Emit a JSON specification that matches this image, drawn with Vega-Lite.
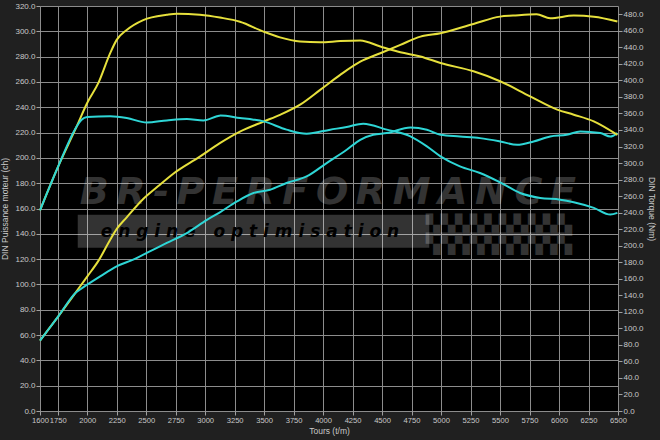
{
  "$schema": "https://vega.github.io/schema/vega-lite/v6.json",
  "width": 578,
  "height": 405,
  "autosize": {"type": "none"},
  "padding": {"left": 40, "top": 6, "right": 42, "bottom": 29},
  "background": "#202020",
  "config": {
    "view": {"fill": "#000000", "stroke": null},
    "axis": {
      "labelFont": "Liberation Sans",
      "labelFontSize": 8,
      "labelColor": "#c8c8c8",
      "titleFont": "Liberation Sans",
      "titleFontSize": 8.5,
      "titleColor": "#c8c8c8",
      "titleFontWeight": "normal",
      "tickColor": "#a0a0a0",
      "tickSize": 4,
      "labelPadding": 1,
      "domain": false,
      "gridColor": "#8c8c8c",
      "gridOpacity": 1,
      "gridWidth": 1
    },
    "axisX": {"labelFontSize": 7.6, "labelFlush": false}
  },
  "datasets": {
    "power": [
      {"run": "tuned", "rpm": 1600, "v": 55.6},
      {"run": "tuned", "rpm": 1755, "v": 74.8},
      {"run": "tuned", "rpm": 1910, "v": 94.6},
      {"run": "tuned", "rpm": 2000, "v": 106.2},
      {"run": "tuned", "rpm": 2095, "v": 118.6},
      {"run": "tuned", "rpm": 2195, "v": 135.3},
      {"run": "tuned", "rpm": 2250, "v": 143.8},
      {"run": "tuned", "rpm": 2335, "v": 153.0},
      {"run": "tuned", "rpm": 2475, "v": 167.5},
      {"run": "tuned", "rpm": 2600, "v": 177.5},
      {"run": "tuned", "rpm": 2730, "v": 187.5},
      {"run": "tuned", "rpm": 2955, "v": 201.0},
      {"run": "tuned", "rpm": 3125, "v": 211.7},
      {"run": "tuned", "rpm": 3295, "v": 220.8},
      {"run": "tuned", "rpm": 3495, "v": 228.7},
      {"run": "tuned", "rpm": 3635, "v": 234.0},
      {"run": "tuned", "rpm": 3805, "v": 242.0},
      {"run": "tuned", "rpm": 3975, "v": 253.7},
      {"run": "tuned", "rpm": 4145, "v": 265.6},
      {"run": "tuned", "rpm": 4315, "v": 276.0},
      {"run": "tuned", "rpm": 4485, "v": 282.7},
      {"run": "tuned", "rpm": 4655, "v": 289.3},
      {"run": "tuned", "rpm": 4825, "v": 295.8},
      {"run": "tuned", "rpm": 4995, "v": 298.5},
      {"run": "tuned", "rpm": 5275, "v": 305.8},
      {"run": "tuned", "rpm": 5500, "v": 311.6},
      {"run": "tuned", "rpm": 5610, "v": 312.4},
      {"run": "tuned", "rpm": 5810, "v": 313.5},
      {"run": "tuned", "rpm": 5925, "v": 310.3},
      {"run": "tuned", "rpm": 6125, "v": 312.4},
      {"run": "tuned", "rpm": 6295, "v": 311.6},
      {"run": "tuned", "rpm": 6495, "v": 307.7},
      {"run": "stock", "rpm": 1600, "v": 55.6},
      {"run": "stock", "rpm": 1755, "v": 74.8},
      {"run": "stock", "rpm": 1910, "v": 94.0},
      {"run": "stock", "rpm": 1940, "v": 96.0},
      {"run": "stock", "rpm": 2000, "v": 99.8},
      {"run": "stock", "rpm": 2110, "v": 106.4},
      {"run": "stock", "rpm": 2250, "v": 114.3},
      {"run": "stock", "rpm": 2390, "v": 119.6},
      {"run": "stock", "rpm": 2505, "v": 124.9},
      {"run": "stock", "rpm": 2675, "v": 132.8},
      {"run": "stock", "rpm": 2845, "v": 140.6},
      {"run": "stock", "rpm": 3015, "v": 151.0},
      {"run": "stock", "rpm": 3125, "v": 157.0},
      {"run": "stock", "rpm": 3270, "v": 165.6},
      {"run": "stock", "rpm": 3410, "v": 172.2},
      {"run": "stock", "rpm": 3550, "v": 174.8},
      {"run": "stock", "rpm": 3690, "v": 180.1},
      {"run": "stock", "rpm": 3860, "v": 185.3},
      {"run": "stock", "rpm": 4030, "v": 195.9},
      {"run": "stock", "rpm": 4200, "v": 206.4},
      {"run": "stock", "rpm": 4315, "v": 214.3},
      {"run": "stock", "rpm": 4425, "v": 218.2},
      {"run": "stock", "rpm": 4540, "v": 219.6},
      {"run": "stock", "rpm": 4740, "v": 224.0},
      {"run": "stock", "rpm": 4880, "v": 222.2},
      {"run": "stock", "rpm": 4995, "v": 218.2},
      {"run": "stock", "rpm": 5160, "v": 216.9},
      {"run": "stock", "rpm": 5330, "v": 215.6},
      {"run": "stock", "rpm": 5500, "v": 213.0},
      {"run": "stock", "rpm": 5645, "v": 210.3},
      {"run": "stock", "rpm": 5785, "v": 213.0},
      {"run": "stock", "rpm": 5925, "v": 216.9},
      {"run": "stock", "rpm": 6065, "v": 218.2},
      {"run": "stock", "rpm": 6180, "v": 220.8},
      {"run": "stock", "rpm": 6350, "v": 219.6},
      {"run": "stock", "rpm": 6435, "v": 216.9},
      {"run": "stock", "rpm": 6495, "v": 219.6}
    ],
    "torque": [
      {"run": "tuned", "rpm": 1600, "v": 242.8},
      {"run": "tuned", "rpm": 1750, "v": 294.5},
      {"run": "tuned", "rpm": 1910, "v": 344.0},
      {"run": "tuned", "rpm": 2000, "v": 372.7},
      {"run": "tuned", "rpm": 2095, "v": 396.9},
      {"run": "tuned", "rpm": 2195, "v": 433.0},
      {"run": "tuned", "rpm": 2250, "v": 449.0},
      {"run": "tuned", "rpm": 2335, "v": 461.0},
      {"run": "tuned", "rpm": 2475, "v": 473.0},
      {"run": "tuned", "rpm": 2675, "v": 479.4},
      {"run": "tuned", "rpm": 2760, "v": 480.7},
      {"run": "tuned", "rpm": 2955, "v": 479.4},
      {"run": "tuned", "rpm": 3125, "v": 476.0},
      {"run": "tuned", "rpm": 3295, "v": 471.0},
      {"run": "tuned", "rpm": 3495, "v": 459.0},
      {"run": "tuned", "rpm": 3635, "v": 452.0},
      {"run": "tuned", "rpm": 3805, "v": 447.0},
      {"run": "tuned", "rpm": 3975, "v": 446.0},
      {"run": "tuned", "rpm": 4145, "v": 447.6},
      {"run": "tuned", "rpm": 4315, "v": 448.4},
      {"run": "tuned", "rpm": 4485, "v": 441.0},
      {"run": "tuned", "rpm": 4655, "v": 434.0},
      {"run": "tuned", "rpm": 4825, "v": 429.0},
      {"run": "tuned", "rpm": 4995, "v": 421.0},
      {"run": "tuned", "rpm": 5275, "v": 411.0},
      {"run": "tuned", "rpm": 5500, "v": 399.0},
      {"run": "tuned", "rpm": 5755, "v": 380.6},
      {"run": "tuned", "rpm": 5985, "v": 364.6},
      {"run": "tuned", "rpm": 6125, "v": 358.5},
      {"run": "tuned", "rpm": 6295, "v": 350.4},
      {"run": "tuned", "rpm": 6495, "v": 334.0},
      {"run": "stock", "rpm": 1600, "v": 242.8},
      {"run": "stock", "rpm": 1750, "v": 294.5},
      {"run": "stock", "rpm": 1910, "v": 344.0},
      {"run": "stock", "rpm": 1950, "v": 352.0},
      {"run": "stock", "rpm": 2000, "v": 355.7},
      {"run": "stock", "rpm": 2195, "v": 356.5},
      {"run": "stock", "rpm": 2335, "v": 354.5},
      {"run": "stock", "rpm": 2505, "v": 349.0},
      {"run": "stock", "rpm": 2675, "v": 351.6},
      {"run": "stock", "rpm": 2845, "v": 353.3},
      {"run": "stock", "rpm": 2985, "v": 351.6},
      {"run": "stock", "rpm": 3100, "v": 356.5},
      {"run": "stock", "rpm": 3130, "v": 357.5},
      {"run": "stock", "rpm": 3295, "v": 354.5},
      {"run": "stock", "rpm": 3410, "v": 352.5},
      {"run": "stock", "rpm": 3495, "v": 350.4},
      {"run": "stock", "rpm": 3690, "v": 340.4},
      {"run": "stock", "rpm": 3860, "v": 335.5},
      {"run": "stock", "rpm": 4060, "v": 340.4},
      {"run": "stock", "rpm": 4200, "v": 343.6},
      {"run": "stock", "rpm": 4340, "v": 347.6},
      {"run": "stock", "rpm": 4540, "v": 340.4},
      {"run": "stock", "rpm": 4740, "v": 332.3},
      {"run": "stock", "rpm": 4880, "v": 320.2},
      {"run": "stock", "rpm": 4995, "v": 308.1},
      {"run": "stock", "rpm": 5160, "v": 296.0},
      {"run": "stock", "rpm": 5330, "v": 288.0},
      {"run": "stock", "rpm": 5500, "v": 276.7},
      {"run": "stock", "rpm": 5670, "v": 263.8},
      {"run": "stock", "rpm": 5840, "v": 257.8},
      {"run": "stock", "rpm": 6010, "v": 255.7},
      {"run": "stock", "rpm": 6125, "v": 252.5},
      {"run": "stock", "rpm": 6295, "v": 245.7},
      {"run": "stock", "rpm": 6435, "v": 237.6},
      {"run": "stock", "rpm": 6495, "v": 239.7}
    ]
  },
  "layer": [
    {
      "data": {"values": [{}]},
      "mark": {"type": "rect", "fill": "#ffffff", "opacity": 0.2},
      "encoding": {
        "x": {"datum": 1920, "type": "quantitative", "scale": {"domain": [1600, 6500], "nice": false, "zero": false}, "axis": {"values": [1600, 1750, 2000, 2250, 2500, 2750, 3000, 3250, 3500, 3750, 4000, 4250, 4500, 4750, 5000, 5250, 5500, 5750, 6000, 6250, 6500], "format": "d", "labelOverlap": false, "labelFlush": false, "title": "Tours (t/m)", "grid": true, "titlePadding": 3}},
        "x2": {"datum": 4900},
        "y": {"datum": 155, "type": "quantitative", "scale": {"domain": [0, 320], "nice": false}, "axis": null},
        "y2": {"datum": 129}
      }
    },
    {
      "data": {"values": [{}]},
      "mark": {"type": "text", "text": "B\u2009R\u2009-\u2009P\u2009E\u2009R\u2009F\u2009O\u2009R\u2009M\u2009A\u2009N\u2009C\u2009E", "font": "DejaVu Sans", "fontSize": 38, "fontWeight": "bold", "fontStyle": "italic", "fill": "#ffffff", "opacity": 0.2, "align": "center", "baseline": "middle"},
      "encoding": {
        "x": {"datum": 4040, "type": "quantitative", "scale": {"domain": [1600, 6500], "nice": false, "zero": false}, "axis": {"values": [1600, 1750, 2000, 2250, 2500, 2750, 3000, 3250, 3500, 3750, 4000, 4250, 4500, 4750, 5000, 5250, 5500, 5750, 6000, 6250, 6500], "format": "d", "labelOverlap": false, "labelFlush": false, "title": "Tours (t/m)", "grid": true, "titlePadding": 3}},
        "y": {"datum": 172.5, "type": "quantitative", "scale": {"domain": [0, 320], "nice": false}, "axis": null}
      }
    },
    {
      "data": {"values": [{}]},
      "mark": {"type": "text", "text": ["\u259a\u259a\u259a\u259a\u259a\u259a\u259a\u259a\u259a\u259a", "\u259a\u259a\u259a\u259a\u259a\u259a\u259a\u259a\u259a\u259a"], "lineHeight": 19, "font": "DejaVu Sans", "fontSize": 19, "fill": "#ffffff", "opacity": 0.2, "align": "center", "baseline": "middle"},
      "encoding": {
        "x": {"datum": 5490, "type": "quantitative", "scale": {"domain": [1600, 6500], "nice": false, "zero": false}, "axis": {"values": [1600, 1750, 2000, 2250, 2500, 2750, 3000, 3250, 3500, 3750, 4000, 4250, 4500, 4750, 5000, 5250, 5500, 5750, 6000, 6250, 6500], "format": "d", "labelOverlap": false, "labelFlush": false, "title": "Tours (t/m)", "grid": true, "titlePadding": 3}},
        "y": {"datum": 147, "type": "quantitative", "scale": {"domain": [0, 320], "nice": false}, "axis": null}
      }
    },
    {
      "data": {"values": [{}]},
      "mark": {"type": "text", "text": "e n g i n e\u00a0\u00a0 o p t i m i s a t i o n", "font": "DejaVu Sans", "fontSize": 17, "fontWeight": "bold", "fontStyle": "italic", "fill": "#000000", "align": "center", "baseline": "middle"},
      "encoding": {
        "x": {"datum": 3380, "type": "quantitative", "scale": {"domain": [1600, 6500], "nice": false, "zero": false}, "axis": {"values": [1600, 1750, 2000, 2250, 2500, 2750, 3000, 3250, 3500, 3750, 4000, 4250, 4500, 4750, 5000, 5250, 5500, 5750, 6000, 6250, 6500], "format": "d", "labelOverlap": false, "labelFlush": false, "title": "Tours (t/m)", "grid": true, "titlePadding": 3}},
        "y": {"datum": 141.5, "type": "quantitative", "scale": {"domain": [0, 320], "nice": false}, "axis": null}
      }
    },
    {
      "data": {"name": "power"},
      "mark": {"type": "line", "strokeWidth": 2, "interpolate": "monotone"},
      "encoding": {
        "x": {"field": "rpm", "type": "quantitative", "scale": {"domain": [1600, 6500], "nice": false, "zero": false}, "axis": {"values": [1600, 1750, 2000, 2250, 2500, 2750, 3000, 3250, 3500, 3750, 4000, 4250, 4500, 4750, 5000, 5250, 5500, 5750, 6000, 6250, 6500], "format": "d", "labelOverlap": false, "labelFlush": false, "title": "Tours (t/m)", "grid": true, "titlePadding": 3}},
        "y": {
          "field": "v", "type": "quantitative",
          "scale": {"domain": [0, 320], "nice": false},
          "axis": {"orient": "left", "values": [0, 20, 40, 60, 80, 100, 120, 140, 160, 180, 200, 220, 240, 260, 280, 300, 320], "format": ".1f", "title": "DIN Puissance moteur (ch)", "grid": true, "titlePadding": 5}
        },
        "color": {"field": "run", "type": "nominal", "scale": {"domain": ["tuned", "stock"], "range": ["#e6e03c", "#2ed6d6"]}, "legend": null}
      }
    },
    {
      "data": {"name": "torque"},
      "mark": {"type": "line", "strokeWidth": 2, "interpolate": "monotone"},
      "encoding": {
        "x": {"field": "rpm", "type": "quantitative", "scale": {"domain": [1600, 6500], "nice": false, "zero": false}, "axis": {"values": [1600, 1750, 2000, 2250, 2500, 2750, 3000, 3250, 3500, 3750, 4000, 4250, 4500, 4750, 5000, 5250, 5500, 5750, 6000, 6250, 6500], "format": "d", "labelOverlap": false, "labelFlush": false, "title": "Tours (t/m)", "grid": true, "titlePadding": 3}},
        "y": {
          "field": "v", "type": "quantitative",
          "scale": {"domain": [0, 490], "nice": false},
          "axis": {"orient": "right", "values": [0, 20, 40, 60, 80, 100, 120, 140, 160, 180, 200, 220, 240, 260, 280, 300, 320, 340, 360, 380, 400, 420, 440, 460, 480], "format": ".1f", "title": "DIN Torque (Nm)", "grid": false, "titlePadding": 3}
        },
        "color": {"field": "run", "type": "nominal", "legend": null}
      }
    }
  ],
  "resolve": {"scale": {"y": "independent"}}
}
